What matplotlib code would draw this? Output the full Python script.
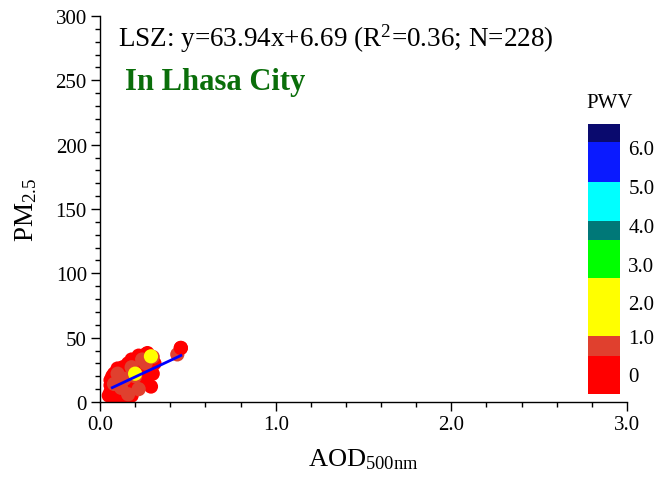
import matplotlib
matplotlib.use("Agg")
import matplotlib.pyplot as plt
import numpy as np
from matplotlib.colors import ListedColormap, BoundaryNorm
from matplotlib.ticker import MultipleLocator

plt.rcParams['font.family'] = ['Liberation Serif', 'DejaVu Serif']
plt.rcParams['mathtext.fontset'] = 'custom'
plt.rcParams['mathtext.rm'] = 'Liberation Serif'
plt.rcParams['mathtext.it'] = 'Liberation Serif:italic'

# ---- data ----
aod_red = [0.06, 0.07, 0.08, 0.09, 0.10, 0.06, 0.07, 0.08, 0.10, 0.11, 0.12, 0.12, 0.13, 0.14, 0.15,
           0.16, 0.17, 0.18, 0.19, 0.20, 0.21, 0.22, 0.23, 0.24, 0.25, 0.26, 0.27, 0.28, 0.30, 0.29,
           0.31, 0.46, 0.05, 0.09, 0.11, 0.13, 0.14, 0.16, 0.18, 0.19, 0.21, 0.22, 0.08, 0.10, 0.06,
           0.12, 0.15, 0.17, 0.20, 0.24, 0.26, 0.27, 0.07, 0.09, 0.11, 0.13, 0.15, 0.17, 0.23, 0.25,
           0.12, 0.14, 0.16, 0.10, 0.08, 0.18]
pm_red = [8, 12, 6, 15, 10, 17, 20, 9, 18, 13, 7, 22, 16, 11, 20,
          14, 25, 18, 9, 23, 28, 16, 31, 20, 35, 27, 38, 32, 22, 12,
          30, 42, 5, 4, 24, 27, 6, 30, 33, 24, 12, 36, 22, 26, 13,
          19, 8, 12, 30, 15, 37, 22, 16, 19, 9, 21, 26, 20, 25, 18,
          5, 3, 9, 6, 3, 5]
pwv_red = [0.5] * len(aod_red)

aod_brown = [0.44, 0.30, 0.20, 0.14, 0.10, 0.08, 0.18, 0.24, 0.12, 0.26, 0.16, 0.22]
pm_brown = [37, 35, 20, 18, 22, 14, 27, 33, 11, 30, 6, 10]
pwv_brown = [1.0] * len(aod_brown)

aod_yellow = [0.29, 0.20, 0.15, 0.13, 0.24]
pm_yellow = [35.5, 22, 4, 5, 28]
pwv_yellow = [1.8] * len(aod_yellow)

slope, intercept = 63.94, 6.69

pwv_bounds = [0, 0.84, 1.29, 2.58, 3.42, 3.84, 4.71, 5.6, 6.0]
pwv_colors = ['#ff0000', '#e0402e', '#ffff00', '#00ff00', '#007878', '#00ffff', '#0a1aff', '#0a0a6e']
pwv_tick_pos = [0.44, 1.29, 2.04, 2.89, 3.76, 4.62, 5.49]
pwv_tick_labels = ['0', '1.0', '2.0', '3.0', '4.0', '5.0', '6.0']

# ---- figure ----
fig = plt.figure(figsize=(6.61, 4.85), dpi=100)
ax = fig.add_axes([0.1513, 0.1691, 0.7973, 0.7959])

cmap = ListedColormap(pwv_colors)
norm = BoundaryNorm(pwv_bounds, cmap.N)

# drawing order: hidden yellow first, then red, brown, visible yellow on top
aod = aod_yellow[2:] + aod_red + aod_brown
pm = pm_yellow[2:] + pm_red + pm_brown
pwv = pwv_yellow[2:] + pwv_red + pwv_brown
ax.scatter(aod, pm, c=pwv, cmap=cmap, norm=norm, s=105, edgecolors='none', zorder=2)
ax.scatter(aod_yellow[:2], pm_yellow[:2], c=pwv_yellow[:2], cmap=cmap, norm=norm, s=105,
           edgecolors='none', zorder=3)
ax.scatter(aod_red[31:32], pm_red[31:32], c=pwv_red[31:32], cmap=cmap, norm=norm, s=105,
           edgecolors='none', zorder=3)

xl = np.array([0.07, max(aod)])
ax.plot(xl, slope * xl + intercept, color='#0000ff', lw=2, zorder=4)

ax.set_xlim(0, 3.0)
ax.set_ylim(0, 300)
ax.xaxis.set_major_locator(MultipleLocator(1.0))
ax.xaxis.set_minor_locator(MultipleLocator(0.2))
ax.yaxis.set_major_locator(MultipleLocator(50))
ax.yaxis.set_minor_locator(MultipleLocator(10))
ax.set_xticks([0, 1, 2, 3])
ax.set_xticklabels(['0.0', '1.0', '2.0', '3.0'])
for s in ['top', 'right']:
    ax.spines[s].set_visible(False)
for s in ['left', 'bottom']:
    ax.spines[s].set_linewidth(1.0)
ax.tick_params(which='major', direction='out', length=6.5, width=1, labelsize=15, pad=3)
ax.tick_params(which='minor', direction='out', length=3.5, width=1)

ax.set_xlabel('AOD$_\\mathrm{500nm}$', fontsize=19, labelpad=9)
ax.set_ylabel('PM$_\\mathrm{2.5}$', fontsize=19.5, labelpad=12)

ax.text(0.034, 0.985, 'LSZ: y=63.94x+6.69 (R$^\\mathrm{2}$=0.36; N=228)', transform=ax.transAxes,
        fontsize=19.5, va='top', ha='left')
ax.text(0.047, 0.83, 'In Lhasa City', transform=ax.transAxes, fontsize=22, fontweight='bold',
        color='#0a6e0a', va='center', ha='left')

cax = fig.add_axes([0.8896, 0.1856, 0.0484, 0.5567])
sm = matplotlib.cm.ScalarMappable(cmap=cmap, norm=norm)
cb = fig.colorbar(sm, cax=cax, spacing='proportional', boundaries=pwv_bounds)
cb.outline.set_visible(False)
cax.minorticks_off()
cb.set_ticks(pwv_tick_pos)
cb.set_ticklabels(pwv_tick_labels)
cax.minorticks_off()
cax.tick_params(which='both', length=0, labelsize=15, pad=6)
fig.text(0.923, 0.787, 'PWV', fontsize=15, ha='center', va='center')

fig.savefig('out.png', dpi=100)
